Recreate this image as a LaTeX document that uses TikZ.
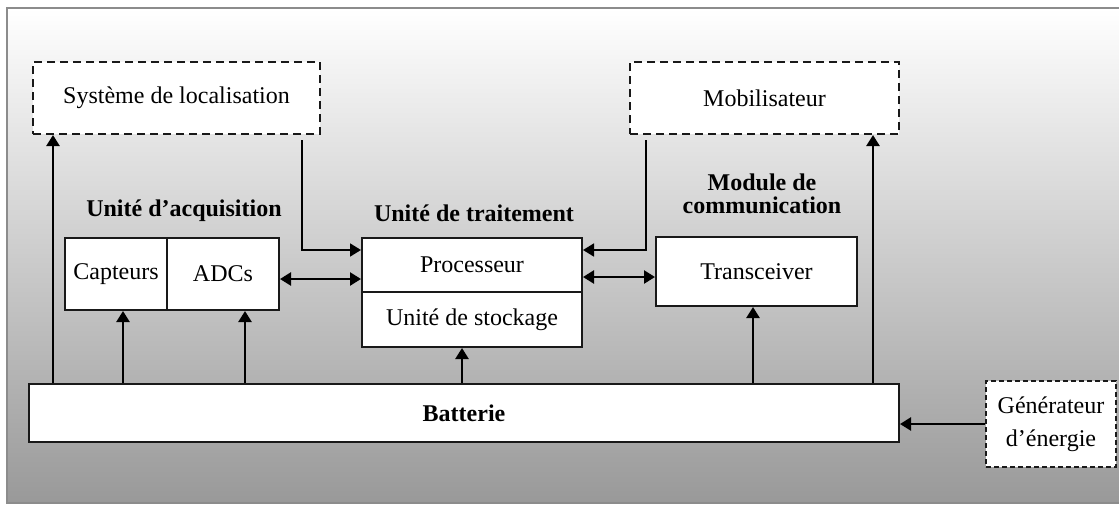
\documentclass[tikz,border=0pt]{standalone}
\usepackage{fontspec}
\setmainfont{Liberation Serif}
\usetikzlibrary{arrows.meta,calc}
\begin{document}
\begin{tikzpicture}[x=1pt,y=-1pt,
  every node/.style={font=\fontsize{24}{28}\selectfont},
  box/.style={draw=black!90, line width=2pt, fill=white, inner sep=0pt},
  dbox/.style={box, dash pattern=on 8pt off 5pt},
  sdbox/.style={box, line width=1.6pt, dash pattern=on 5pt off 3pt},
  title/.style={font=\fontsize{24}{23}\selectfont\bfseries, align=center},
  link/.style={line width=2.4pt, -{Triangle[width=13pt,length=11pt]}},
  thinlink/.style={line width=1.8pt, -{Triangle[width=13pt,length=11pt]}},
  twoway/.style={line width=2.4pt, {Triangle[width=13pt,length=11pt]}-{Triangle[width=13pt,length=11pt]}}]
\clip (0,0) rectangle (1119,504);
\fill[white] (0,0) rectangle (1119,504);
% shaded panel with its frame
\shade[top color=white, middle color=black!17, bottom color=black!40] (7,8) rectangle (1135,503);
\draw[black!45, line width=2pt] (7,8) rectangle (1135,503);

% external (dashed) blocks
\node[dbox, minimum width=287pt, minimum height=72pt] (loc) at (176.5,98) {Système de localisation};
\node[dbox, minimum width=269pt, minimum height=72pt] (mob) at (764.5,98) {Mobilisateur};
\node[sdbox, minimum width=130pt, minimum height=86pt, align=center,
      font=\fontsize{24}{33}\selectfont] (gen) at (1051,424) {Générateur\\d’énergie};

% block titles
\node[title] (tacq) at (184,211) {Unité d’acquisition};
\node[title] (ttrt) at (474,213) {Unité de traitement};
\node[title] (tcom) at (762,194) {Module de\\communication};

% acquisition unit
\node[box, minimum width=102pt, minimum height=72pt] (capt) at (116,274) {Capteurs};
\node[box, minimum width=112pt, minimum height=72pt] (adc) at (223,274) {ADCs};

% processing unit
\node[box, minimum width=220pt, minimum height=54pt] (proc) at (472,265) {Processeur};
\node[box, minimum width=220pt, minimum height=55pt] (stock) at (472,319.5) {Unité de stockage};

% communication module
\node[box, minimum width=201pt, minimum height=69pt] (trans) at (756.5,271.5) {Transceiver};

% battery
\node[box, minimum width=870pt, minimum height=58pt, font=\fontsize{24}{28}\selectfont\bfseries] (batt) at (464,413) {Batterie};

% x positions of the vertical links, y positions of the horizontal ones
\coordinate (xloc) at (53,0);
\coordinate (xcap) at (123,0);
\coordinate (xadc) at (245,0);
\coordinate (xsto) at (462,0);
\coordinate (xtrx) at (753,0);
\coordinate (xmob) at (873,0);
\coordinate (xa) at (302,0);
\coordinate (xb) at (646,0);
\coordinate (ya) at (0,250);
\coordinate (yb) at (0,279);
\coordinate (yc) at (0,277);

% power supply from the battery
\draw[link] (batt.north -| xloc) -- (loc.south -| xloc);
\draw[link] (batt.north -| xcap) -- (capt.south -| xcap);
\draw[link] (batt.north -| xadc) -- (adc.south -| xadc);
\draw[link] (batt.north -| xsto) -- (stock.south -| xsto);
\draw[link] (batt.north -| xtrx) -- (trans.south -| xtrx);
\draw[link] (batt.north -| xmob) -- (mob.south -| xmob);
\draw[link] (gen.west) -- (batt.east |- gen.west);

% data paths
\draw[thinlink, shorten <=5pt] (loc.south -| xa) |- (proc.west |- ya);
\draw[thinlink, shorten <=5pt] (mob.south -| xb) |- (proc.east |- ya);
\draw[twoway] (adc.east |- yb) -- (proc.west |- yb);
\draw[twoway] (proc.east |- yc) -- (trans.west |- yc);
\end{tikzpicture}
\end{document}
